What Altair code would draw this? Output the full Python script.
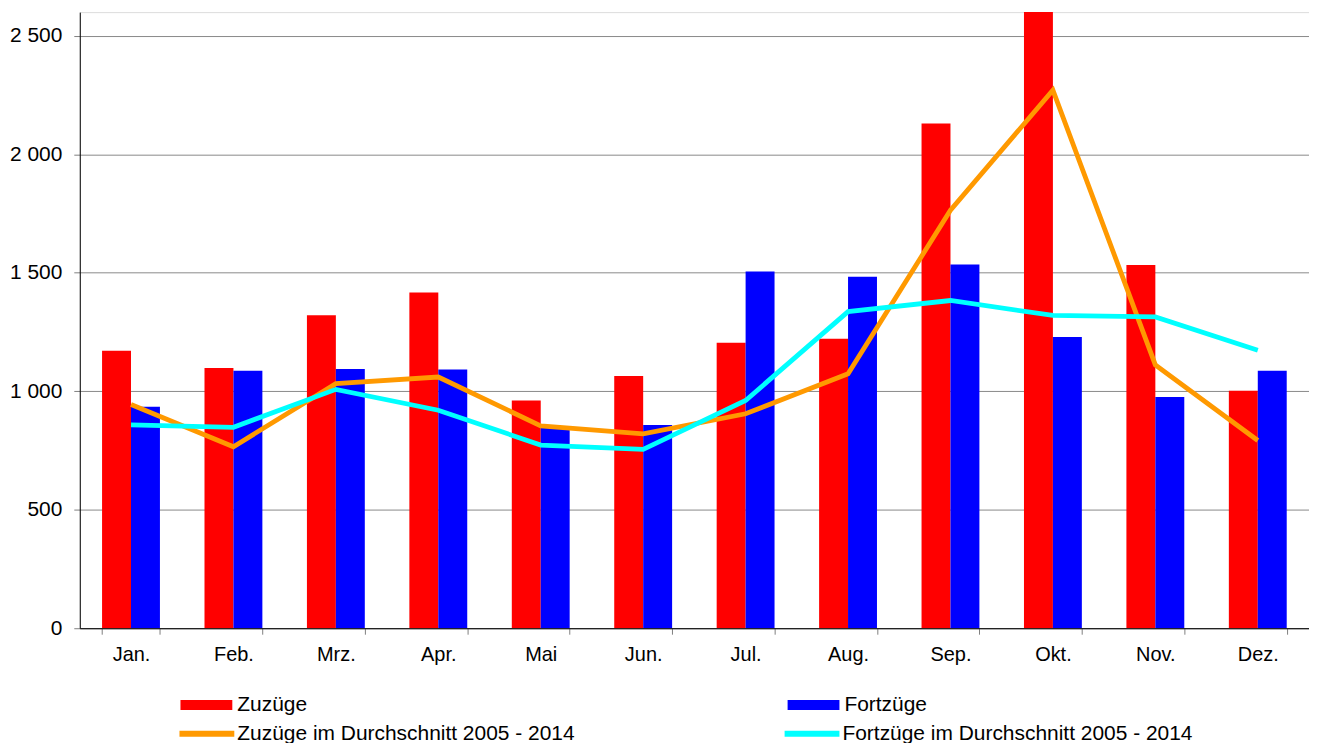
import altair as alt
import pandas as pd

months = ["Jan.", "Feb.", "Mrz.", "Apr.", "Mai", "Jun.", "Jul.", "Aug.", "Sep.", "Okt.", "Nov.", "Dez."]
zuzuege = [1171, 1098, 1321, 1417, 961, 1064, 1205, 1222, 2130, 2600, 1533, 1002]
fortzuege = [935, 1087, 1094, 1092, 845, 858, 1505, 1483, 1535, 1229, 976, 1087]
zuz_avg = [944, 766, 1032, 1060, 854, 820, 905, 1074, 1764, 2271, 1111, 792]
fort_avg = [858, 848, 1008, 920, 773, 755, 961, 1336, 1383, 1320, 1314, 1173]
y_ticks = [0, 500, 1000, 1500, 2000, 2500]

bar_series = ["Zuzüge", "Fortzüge"]
line_series = ["Zuzüge im  Durchschnitt 2005 - 2014", "Fortzüge im Durchschnitt 2005 - 2014"]

bars_df = pd.DataFrame({
    "Monat": months * 2,
    "Serie": [bar_series[0]] * 12 + [bar_series[1]] * 12,
    "Wert": zuzuege + fortzuege,
})
lines_df = pd.DataFrame({
    "Monat": months * 2,
    "idx": list(range(12)) * 2,
    "Serie": [line_series[0]] * 12 + [line_series[1]] * 12,
    "Wert": zuz_avg + fort_avg,
})

FONT = "Liberation Sans"

x_enc = alt.X(
    "Monat:N", sort=months,
    scale=alt.Scale(paddingInner=0.435, paddingOuter=0.2175),
    axis=alt.Axis(title=None, labelAngle=0, labelFontSize=20, labelColor="black",
                  labelPadding=10, tickBand="extent", tickSize=6, tickColor="#808080",
                  domainColor="black", domainWidth=1, grid=False, labelFont=FONT),
)
y_enc = alt.Y(
    "Wert:Q",
    scale=alt.Scale(domain=[0, 2600], nice=False),
    axis=alt.Axis(title=None, values=y_ticks, labelFontSize=21, labelColor="black",
                  labelPadding=12, tickSize=6, tickColor="#808080",
                  domainColor="black", domainWidth=1, grid=True, gridColor="#8a8a8a",
                  gridWidth=1, labelFont=FONT,
                  labelExpr="replace(format(datum.value, ','), ',', ' ')"),
)

bars = alt.Chart(bars_df).mark_bar(clip=True).encode(
    x=x_enc,
    xOffset=alt.XOffset("Serie:N", sort=bar_series,
                        scale=alt.Scale(domain=bar_series, paddingInner=0, paddingOuter=0)),
    y=y_enc,
    fill=alt.Fill("Serie:N",
                  scale=alt.Scale(domain=bar_series, range=["#FF0000", "#0000FF"]),
                  legend=alt.Legend(title=None, orient="none", legendX=101, legendY=669,
                                    direction="horizontal", columns=2, columnPadding=481,
                                    symbolType="M-1,-0.19H1V0.19H-1Z", symbolSize=2704,
                                    symbolStrokeWidth=0, labelOffset=5, labelFontSize=21,
                                    labelFont=FONT, labelColor="black", labelLimit=600,
                                    padding=0)),
)

lines = alt.Chart(lines_df).mark_line(strokeWidth=4.8, clip=True).encode(
    x=alt.X("Monat:N", sort=months),
    y=alt.Y("Wert:Q"),
    order=alt.Order("idx:Q"),
    stroke=alt.Stroke("Serie:N",
                      scale=alt.Scale(domain=line_series, range=["#FF9900", "#00FFFF"]),
                      legend=alt.Legend(title=None, orient="none", legendX=97, legendY=693,
                                        direction="horizontal", columns=2, columnPadding=192,
                                        symbolType="stroke", symbolSize=3025,
                                        symbolStrokeWidth=6, labelOffset=0, labelFontSize=21,
                                        labelFont=FONT, labelColor="black", labelLimit=600,
                                        padding=0)),
)

chart = alt.layer(bars, lines).properties(
    width=1233,
    height=618,
    autosize=alt.AutoSizeParams(type="none"),
    padding={"left": 72, "top": 3, "right": 0, "bottom": 114},
).configure_view(stroke=None).configure(font=FONT, background="white")

chart.save("out.html", embed_options={"renderer": "svg", "actions": False})
